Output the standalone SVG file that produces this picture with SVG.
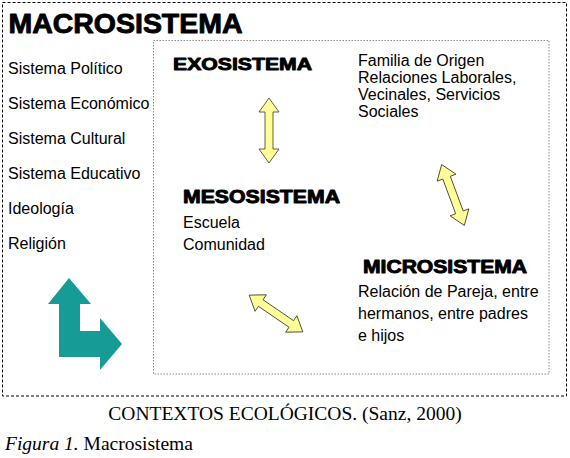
<svg xmlns="http://www.w3.org/2000/svg" width="570" height="458" viewBox="0 0 570 458">
<style>
.t{font-family:"Liberation Sans",Arial,sans-serif;font-size:16px;fill:#000}
.h{font-family:"Liberation Sans",Arial,sans-serif;font-weight:bold;fill:#000;stroke:#000;stroke-width:0.9;stroke-linejoin:round}
.cap{font-family:"Liberation Serif","Times New Roman",serif;font-size:19.5px;fill:#000}
.ya{fill:#FFFF99;stroke:#3a3a20;stroke-width:0.8;stroke-linejoin:round}
</style>
<defs>
<polygon id="dbl" points="-32.5,0 -18.5,-10 -18.5,-4 18.5,-4 18.5,-10 32.5,0 18.5,10 18.5,4 -18.5,4 -18.5,10"/>
</defs>
<rect width="570" height="458" fill="#fff"/>
<g id="macro">
<rect x="2.5" y="2.5" width="564" height="393.5" fill="none" stroke="#000" stroke-width="1" stroke-dasharray="3,2"/>
<text class="h" x="8.5" y="32.5" font-size="27.5" textLength="234" lengthAdjust="spacingAndGlyphs">MACROSISTEMA</text>
<text class="t" x="8" y="74">Sistema Político</text>
<text class="t" x="8" y="109">Sistema Económico</text>
<text class="t" x="8" y="144">Sistema Cultural</text>
<text class="t" x="8" y="179">Sistema Educativo</text>
<text class="t" x="8" y="214">Ideología</text>
<text class="t" x="8" y="249">Religión</text>
<polygon points="69,278 91,304 80,304 80,331 100,331 100,318 122,344 100,370 100,357 59,357 59,304 48,304" fill="#169B97"/>
</g>
<g id="inner">
<rect x="153.5" y="40.5" width="395.5" height="333.5" fill="none" stroke="#8a8a8a" stroke-width="1" stroke-dasharray="1.5,1.5"/>
</g>
<g id="exo">
<text class="h" x="173" y="69.5" font-size="17" textLength="139" lengthAdjust="spacingAndGlyphs">EXOSISTEMA</text>
<text class="t" x="358" y="66">Familia de Origen</text>
<text class="t" x="358" y="83">Relaciones Laborales,</text>
<text class="t" x="358" y="100">Vecinales, Servicios</text>
<text class="t" x="358" y="117">Sociales</text>
</g>
<g id="meso">
<text class="h" x="183" y="202.5" font-size="17.5" textLength="157" lengthAdjust="spacingAndGlyphs">MESOSISTEMA</text>
<text class="t" x="183" y="228">Escuela</text>
<text class="t" x="183" y="250">Comunidad</text>
</g>
<g id="micro">
<text class="h" x="363" y="272.5" font-size="17.5" textLength="164" lengthAdjust="spacingAndGlyphs">MICROSISTEMA</text>
<text class="t" x="358" y="297">Relación de Pareja, entre</text>
<text class="t" x="358" y="319">hermanos, entre padres</text>
<text class="t" x="358" y="341">e hijos</text>
</g>
<g id="connectors">
<use href="#dbl" class="ya" transform="translate(269,130.5) rotate(90)"/>
<use href="#dbl" class="ya" transform="translate(453,195) rotate(69.6)"/>
<use href="#dbl" class="ya" transform="translate(276,313.5) rotate(34.4)"/>
</g>
<g id="caption">
<text class="cap" x="285" y="420" text-anchor="middle">CONTEXTOS ECOLÓGICOS. (Sanz, 2000)</text>
<text class="cap" x="5" y="450"><tspan font-style="italic">Figura 1</tspan><tspan font-style="italic">.</tspan> Macrosistema</text>
</g>
</svg>
